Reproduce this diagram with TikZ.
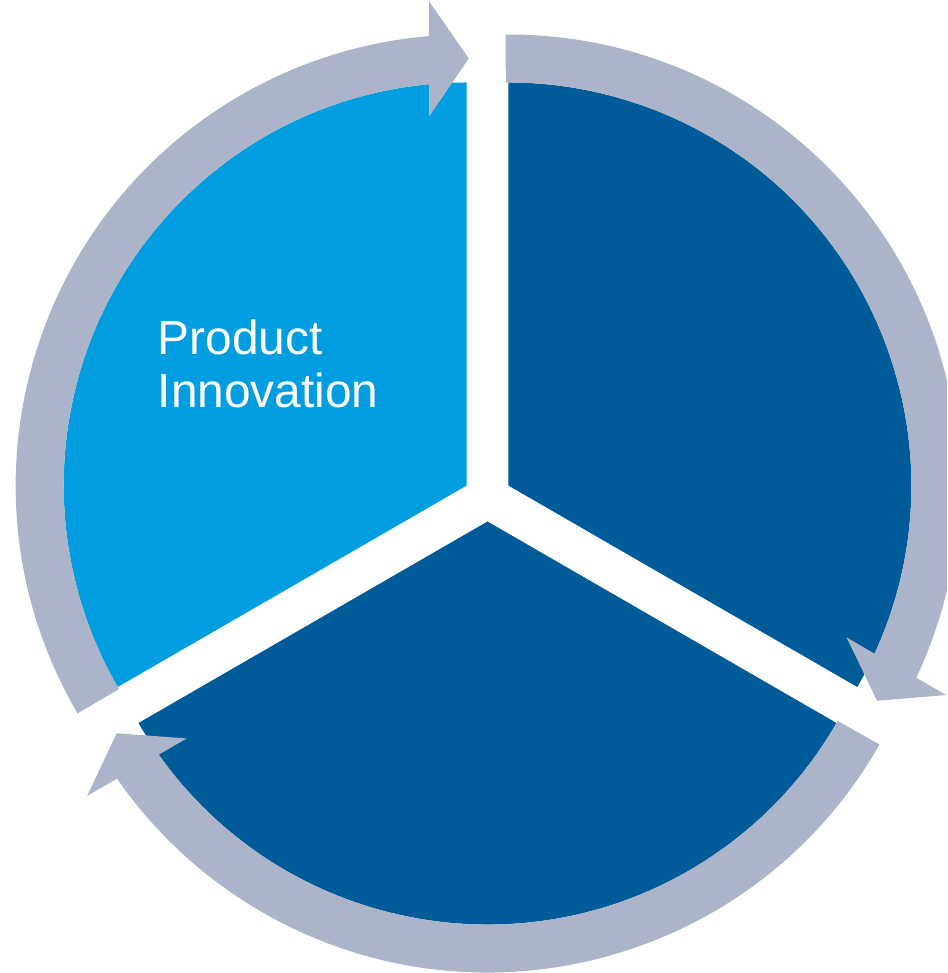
\documentclass[tikz,border=0pt]{standalone}
\usepackage{fontspec}
\setmainfont{Liberation Sans}
\definecolor{lightblue}{RGB}{0,157,224}
\definecolor{darkblue}{RGB}{0,91,153}
\definecolor{ringgray}{RGB}{171,180,200}
\tikzset{
  ringarrow/.style={fill=ringgray},
  labeltext/.style={text=white, align=left, inner sep=0pt, font=\fontsize{13.6}{15.2}\selectfont}
}
\newcommand\drawwedge[4]{%
  \begin{scope}[shift={(#1,#2)}, rotate=#3-60]
    \fill[#4] (0,0) -- (0:403) arc[start angle=0, end angle=120, radius=403] -- cycle;
  \end{scope}}
\newcommand\drawringarrow[3]{%
  \begin{scope}[shift={(#1,#2)}, rotate=#3-60]
    \fill[ringarrow] (120.35:451) arc[start angle=120.35, end angle=4.77, radius=451]
      -- (484,37.5) -- (427,-2) -- (369,37.5) -- (401.25,37.5)
      arc[start angle=5.34, end angle=120.35, radius=403] -- cycle;
  \end{scope}}
\begin{document}
\begin{tikzpicture}[x=0.01cm,y=0.01cm]
\useasboundingbox (0,0) rectangle (947,973);
\clip (0,0) rectangle (947,973);
\drawwedge{466.72}{487.5}{150}{lightblue}
\drawwedge{508.28}{487.5}{30}{darkblue}
\drawwedge{487.5}{451.5}{270}{darkblue}
\drawringarrow{466.72}{487.5}{150}
\drawringarrow{508.28}{487.5}{30}
\drawringarrow{487.5}{451.5}{270}
\node[labeltext, anchor=base west] (label) at (157,565.3) {Product\\Innovation};
\end{tikzpicture}
\end{document}
